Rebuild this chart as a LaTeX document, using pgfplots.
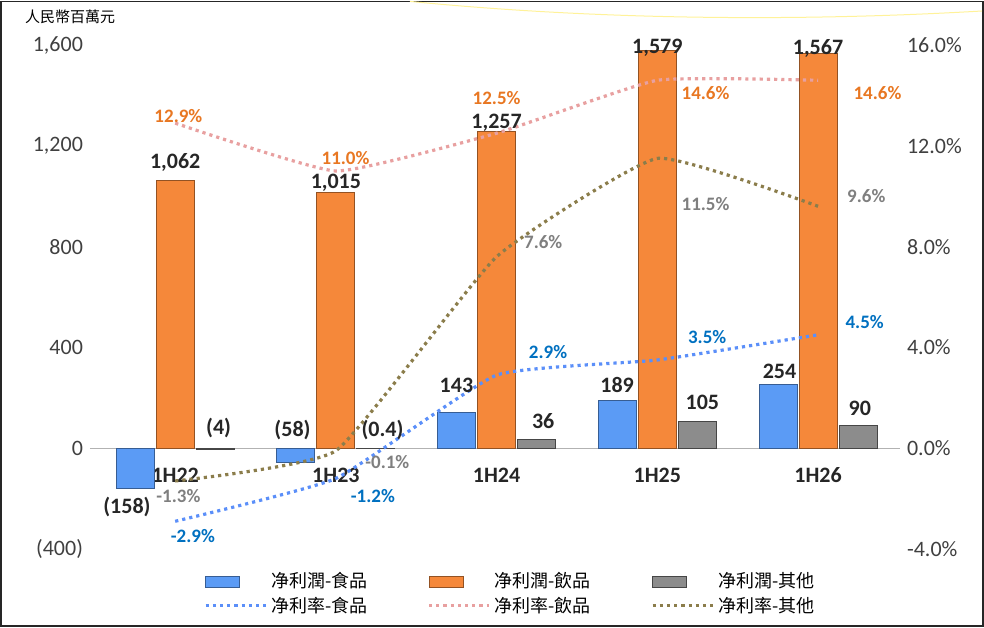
\documentclass[border=0pt]{standalone}
\usepackage{pgfplots}
\pgfplotsset{compat=1.18}
\usepackage{fontspec}
\setmainfont{Carlito}
\newfontfamily\cjk{Noto Sans CJK TC}
\definecolor{cfood}{HTML}{5B9BF5}
\definecolor{cbev}{HTML}{F5883A}
\definecolor{coth}{HTML}{8C8C8C}
\definecolor{lfood}{HTML}{5B8FF9}
\definecolor{lbev}{HTML}{E8A0A0}
\definecolor{loth}{HTML}{8B7D4B}
\definecolor{tfood}{HTML}{0070C0}
\definecolor{tbev}{HTML}{E87722}
\definecolor{toth}{HTML}{7F7F7F}
\definecolor{tdark}{HTML}{262626}
\begin{document}
\begin{tikzpicture}
\path[use as bounding box] (-45pt,-39pt) rectangle (447pt,274.5pt);
\draw[color=black!85, line width=0.8pt] (-44.5pt,-38.5pt) rectangle (446.5pt,273.8pt);
\draw[color=orange!25!yellow!40, line width=0.5pt] (160pt,273.8pt) .. controls (260pt,264pt) and (360pt,264pt) .. (446pt,269pt);
\node[anchor=west, font=\cjk\fontsize{7.5}{9}\selectfont] at (-36pt,266pt) {人民幣百萬元};
\begin{axis}[
  scale only axis, width=405pt, height=252pt,
  xmin=-0.53, xmax=4.51, ymin=-400, ymax=1600,
  axis line style={draw=none}, tick style={draw=none},
  xtick={0,1,2,3,4}, xticklabels={1H22,1H23,1H24,1H25,1H26},
  xticklabel style={anchor=center, yshift=41pt, font=\bfseries\fontsize{11}{13}\selectfont, text=tdark},
  ytick={-400,0,400,800,1200,1600},
  yticklabels={(400),0,400,800,{1,200},{1,600}},
  yticklabel style={font=\fontsize{11}{13}\selectfont, text=black!75},
  extra y ticks={0}, extra y tick labels={},
  extra y tick style={grid=major, major grid style={draw=black!30, line width=0.6pt}},
  ybar, bar width=19pt,
  legend columns=3,
  legend style={at={(0.52,-0.03)}, anchor=north, draw=none, fill=none,
    font=\cjk\fontsize{9}{10}\selectfont, row sep=-1pt,
    /tikz/every even column/.append style={column sep=28pt}},
  clip=false,
]
\addplot[bar shift=-20pt, fill=cfood, draw=cfood!60!black, area legend] coordinates {(0,-158) (1,-58) (2,143) (3,189) (4,254)};
\addlegendentry{净利潤-食品}
\addplot[bar shift=0pt, fill=cbev, draw=cbev!60!black, area legend] coordinates {(0,1062) (1,1015) (2,1257) (3,1579) (4,1567)};
\addlegendentry{净利潤-飲品}
\addplot[bar shift=20pt, fill=coth, draw=coth!50!black, area legend] coordinates {(0,-4) (1,-0.4) (2,36) (3,105) (4,90)};
\addlegendentry{净利潤-其他}
\pgfplotsset{every axis plot/.append style={legend image code/.code={\draw[#1] (0pt,0pt) -- (30pt,0pt);}}}
\addplot[sharp plot, smooth, tension=0.25, lfood, line width=1.6pt, dotted] table[y expr=\thisrowno{1}*100] {
0 -2.9
1 -1.2
2 2.9
3 3.5
4 4.5
};
\addlegendentry{净利率-食品}
\addplot[sharp plot, smooth, tension=0.25, lbev, line width=1.6pt, dotted] table[y expr=\thisrowno{1}*100] {
0 12.9
1 11.0
2 12.5
3 14.6
4 14.6
};
\addlegendentry{净利率-飲品}
\addplot[sharp plot, smooth, tension=0.25, loth, line width=1.6pt, dotted] table[y expr=\thisrowno{1}*100] {
0 -1.3
1 -0.1
2 7.6
3 11.5
4 9.6
};
\addlegendentry{净利率-其他}
% bar labels
\begin{scope}[every node/.style={font=\bfseries\fontsize{11}{13}\selectfont, text=tdark}]
\node at (axis cs:-0.3,-233) {(158)};
\node at (axis cs:0,1132) {1,062};
\node at (axis cs:0.27,80) {(4)};
\node at (axis cs:-0.27+1,72) {(58)};
\node at (axis cs:1,1052) {1,015};
\node at (axis cs:1.29,72) {(0.4)};
\node at (axis cs:1.75,251) {143};
\node at (axis cs:2,1290) {1,257};
\node at (axis cs:2.29,108) {36};
\node at (axis cs:2.75,251) {189};
\node at (axis cs:3,1588) {1,579};
\node at (axis cs:3.28,183) {105};
\node at (axis cs:3.76,303) {254};
\node at (axis cs:4,1588) {1,567};
\node at (axis cs:4.26,160) {90};
\end{scope}
\begin{scope}[every node/.style={font=\bfseries\fontsize{9.5}{11}\selectfont}]
\node[text=tbev] at (axis cs:0.02,1320) {12.9\%};
\node[text=tbev] at (axis cs:1.06,1150) {11.0\%};
\node[text=tbev] at (axis cs:2,1390) {12.5\%};
\node[text=tbev] at (axis cs:3.3,1410) {14.6\%};
\node[text=tbev] at (axis cs:4.37,1410) {14.6\%};
\node[text=tfood] at (axis cs:0.11,-350) {-2.9\%};
\node[text=tfood] at (axis cs:1.23,-190) {-1.2\%};
\node[text=tfood] at (axis cs:2.32,380) {2.9\%};
\node[text=tfood] at (axis cs:3.31,440) {3.5\%};
\node[text=tfood] at (axis cs:4.29,500) {4.5\%};
\node[text=toth] at (axis cs:0.02,-190) {-1.3\%};
\node[text=toth] at (axis cs:1.32,-55) {-0.1\%};
\node[text=toth] at (axis cs:2.29,820) {7.6\%};
\node[text=toth] at (axis cs:3.3,970) {11.5\%};
\node[text=toth] at (axis cs:4.3,1000) {9.6\%};
\end{scope}
\end{axis}
\begin{axis}[
  scale only axis, width=405pt, height=252pt,
  xmin=-0.53, xmax=4.51, ymin=-4, ymax=16,
  axis line style={draw=none}, tick style={draw=none},
  axis y line*=right, xtick=\empty,
  ytick={-4,0,4,8,12,16},
  yticklabels={-4.0\%,0.0\%,4.0\%,8.0\%,12.0\%,16.0\%},
  yticklabel style={font=\fontsize{11}{13}\selectfont, text=black!75},
]
\addplot[draw=none] coordinates {(0,0)};
\end{axis}
\end{tikzpicture}
\end{document}
